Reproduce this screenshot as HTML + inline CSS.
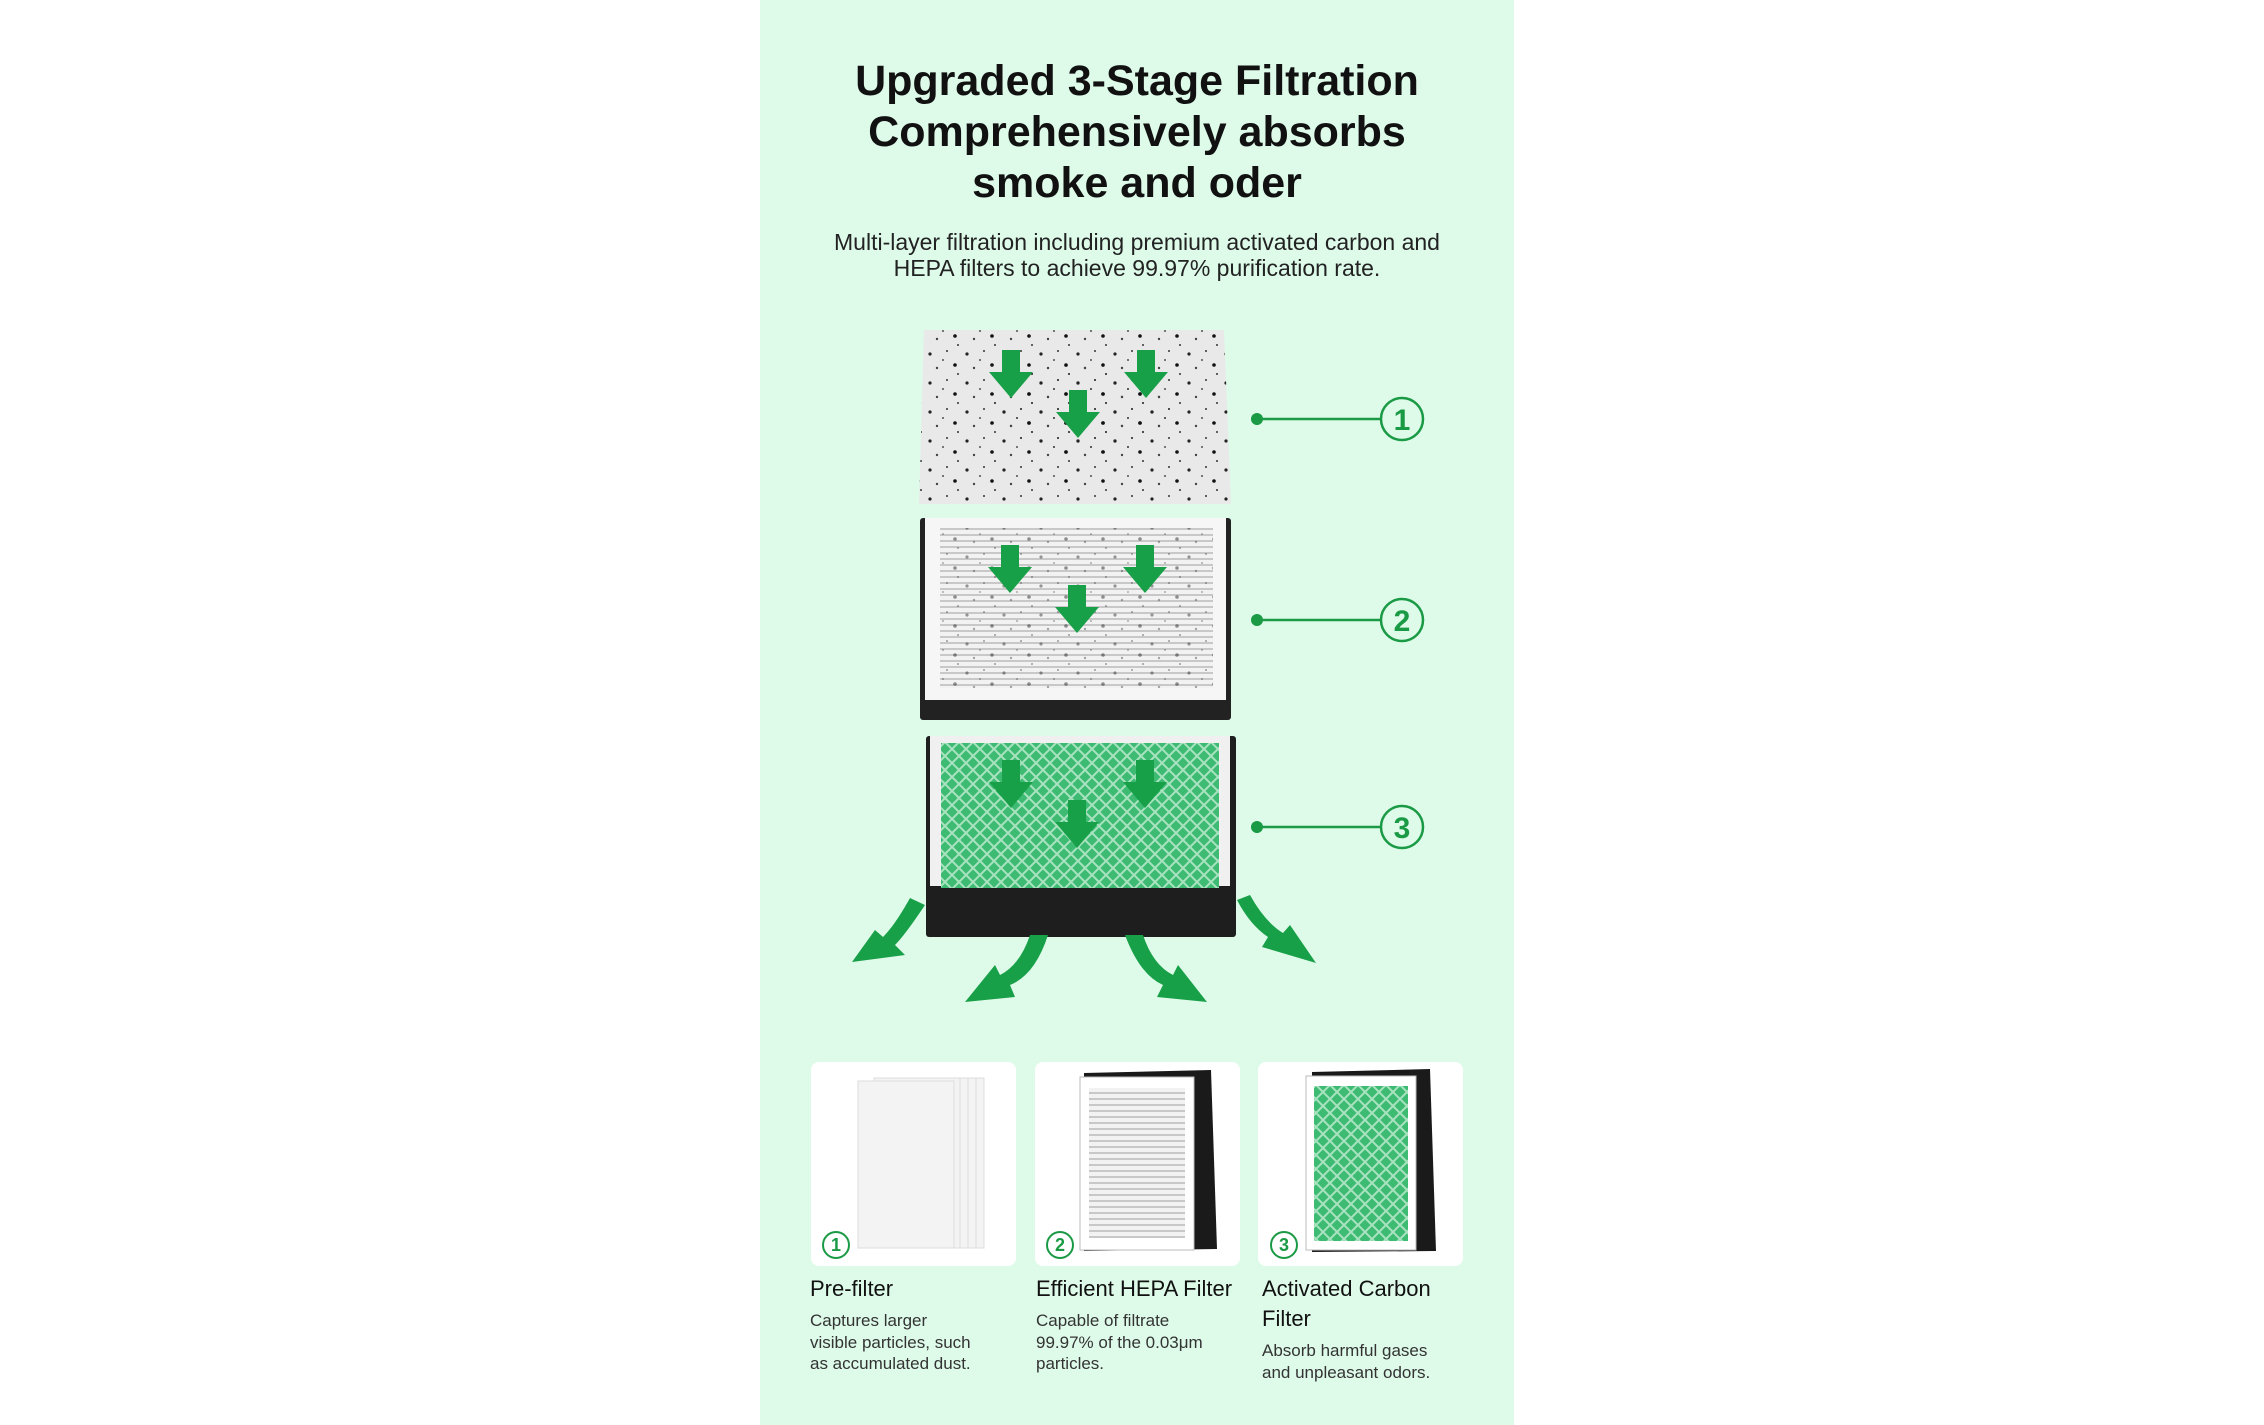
<!DOCTYPE html>
<html><head><meta charset="utf-8"><style>
html,body{margin:0;padding:0;background:#fff;}
body{width:2264px;height:1425px;position:relative;overflow:hidden;font-family:"Liberation Sans",sans-serif;}
#panel{position:absolute;left:760px;top:0;width:754px;height:1425px;background:#defbea;}
.t{position:absolute;left:760px;width:754px;text-align:center;color:#111;}
h1{margin:0;font-size:43px;line-height:51px;font-weight:bold;}
.sub{font-size:23px;line-height:26px;color:#222;}
.card{position:absolute;top:1062px;width:205px;height:204px;background:#fff;border-radius:8px;}
.lab{position:absolute;color:#111;}
.lab b{display:block;font-weight:normal;font-size:22px;line-height:30px;}
.lab p{margin:6px 0 0;font-size:17px;line-height:21.5px;color:#333;}
.num{position:absolute;width:24px;height:24px;border:2.5px solid #1a9a45;border-radius:50%;color:#1a9a45;font-size:18px;font-weight:bold;text-align:center;line-height:24px;}
</style></head><body>
<div id="panel"></div>
<div class="t" style="top:56px"><h1>Upgraded 3-Stage Filtration<br>Comprehensively absorbs<br>smoke and oder</h1></div>
<div class="t sub" style="top:229px">Multi-layer filtration including premium activated carbon and<br>HEPA filters to achieve 99.97% purification rate.</div>

<svg width="2264" height="1425" style="position:absolute;left:0;top:0">
<defs>
<pattern id="spk" width="37" height="29" patternUnits="userSpaceOnUse">
<circle cx="5" cy="6" r="1.6" fill="#222"/><circle cx="22" cy="3" r="1" fill="#333"/><circle cx="30" cy="17" r="1.8" fill="#111"/><circle cx="12" cy="20" r="1.2" fill="#444"/><circle cx="18" cy="12" r="0.9" fill="#222"/><circle cx="33" cy="26" r="1" fill="#333"/>
</pattern>
<pattern id="hepa" width="6" height="6" patternUnits="userSpaceOnUse"><rect width="6" height="6" fill="#f2f2f2"/><rect width="6" height="2" fill="#c8c8c8"/></pattern>
<pattern id="mesh" width="14" height="14" patternUnits="userSpaceOnUse"><rect width="14" height="14" fill="#3dbb73"/><path d="M0 7L7 0L14 7L7 14Z" fill="none" stroke="#a8e2bf" stroke-width="2"/></pattern>
<g id="dn"><path d="M-9 -40h18v22h13l-22 26l-22 -26h13z" fill="#18a048"/></g>
</defs>
<polygon points="924,330 1224,330 1231,504 919,504" fill="#e9e9e9"/>
<polygon points="924,330 1224,330 1231,504 919,504" fill="url(#spk)"/>
<ellipse cx="1080" cy="410" rx="90" ry="45" fill="url(#spk)" opacity="0.9"/>
<use href="#dn" x="1011" y="390"/><use href="#dn" x="1078" y="430"/><use href="#dn" x="1146" y="390"/>
<rect x="920" y="518" width="311" height="202" fill="#222" rx="3"/>
<rect x="925" y="518" width="301" height="182" fill="#f6f6f6"/>
<rect x="940" y="528" width="273" height="160" fill="url(#hepa)"/>
<rect x="940" y="528" width="273" height="160" fill="url(#spk)" opacity="0.45"/>
<use href="#dn" x="1010" y="585"/><use href="#dn" x="1077" y="625"/><use href="#dn" x="1145" y="585"/>
<rect x="926" y="736" width="310" height="201" fill="#1e1e1e" rx="3"/>
<rect x="930" y="736" width="300" height="150" fill="#f0f0f0"/>
<rect x="941" y="743" width="278" height="145" fill="url(#mesh)"/>
<use href="#dn" x="1011" y="800"/><use href="#dn" x="1077" y="840"/><use href="#dn" x="1145" y="800"/>
<g fill="#18a048">
<path d="M925 905 Q905 935 895 945 L905 955 L852 962 L875 930 L883 937 Q895 925 910 898Z"/>
<path d="M1048 935 Q1035 975 1010 985 L1015 997 L965 1002 L995 965 L1000 975 Q1020 965 1030 935Z"/>
<path d="M1125 935 Q1140 975 1163 985 L1157 997 L1207 1002 L1178 965 L1173 975 Q1153 965 1143 935Z"/>
<path d="M1237 900 Q1250 925 1268 937 L1262 947 L1316 963 L1290 925 L1283 933 Q1265 922 1250 895Z"/>
</g>
<g stroke="#1a9a45" stroke-width="2.5" fill="none">
<line x1="1257" y1="419" x2="1380" y2="419"/><circle cx="1402" cy="419" r="21"/>
<line x1="1257" y1="620" x2="1380" y2="620"/><circle cx="1402" cy="620" r="21"/>
<line x1="1257" y1="827" x2="1380" y2="827"/><circle cx="1402" cy="827" r="21"/>
</g>
<g fill="#1a9a45"><circle cx="1257" cy="419" r="6"/><circle cx="1257" cy="620" r="6"/><circle cx="1257" cy="827" r="6"/></g>
<g fill="#1a9a45" font-family="Liberation Sans" font-weight="bold" font-size="30" text-anchor="middle">
<text x="1402" y="430">1</text><text x="1402" y="631">2</text><text x="1402" y="838">3</text></g>
</svg>

<div class="card" style="left:811px"></div>
<div class="card" style="left:1035px"></div>
<div class="card" style="left:1258px"></div>
<svg width="2264" height="1425" style="position:absolute;left:0;top:0">
<g fill="#f3f3f3" stroke="#ddd">
<rect x="898" y="1078" width="86" height="170"/><rect x="890" y="1078" width="86" height="170"/><rect x="882" y="1078" width="86" height="170"/><rect x="874" y="1078" width="86" height="170"/><rect x="858" y="1081" width="96" height="167"/>
</g>
<polygon points="1084,1073 1211,1070 1217,1249 1084,1251" fill="#1a1a1a"/>
<rect x="1080" y="1077" width="114" height="173" fill="#fff" stroke="#bbb"/>
<rect x="1089" y="1088" width="96" height="150" fill="url(#hepa)"/>
<polygon points="1312,1072 1430,1069 1436,1251 1312,1252" fill="#1a1a1a"/>
<rect x="1306" y="1076" width="110" height="174" fill="#fff" stroke="#bbb"/>
<rect x="1314" y="1086" width="94" height="155" fill="url(#mesh)"/>
</svg>
<div class="num" style="left:822px;top:1231px">1</div>
<div class="num" style="left:1046px;top:1231px">2</div>
<div class="num" style="left:1270px;top:1231px">3</div>

<div class="lab" style="left:810px;top:1274px;width:205px"><b>Pre-filter</b><p>Captures larger<br>visible particles, such<br>as accumulated dust.</p></div>
<div class="lab" style="left:1036px;top:1274px;width:220px"><b>Efficient HEPA Filter</b><p>Capable of filtrate<br>99.97% of the 0.03μm<br>particles.</p></div>
<div class="lab" style="left:1262px;top:1274px;width:210px"><b>Activated Carbon<br>Filter</b><p>Absorb harmful gases<br>and unpleasant odors.</p></div>
</body></html>
